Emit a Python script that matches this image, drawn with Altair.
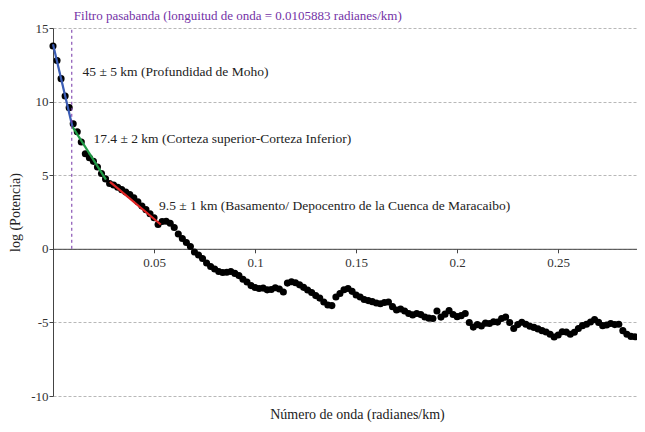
import altair as alt
import pandas as pd

# Wavenumber (radianes/km) and log power
wavenumber = [
    0.000, 0.002, 0.004, 0.006, 0.008, 0.010, 0.012, 0.014, 0.016, 0.018,
    0.020, 0.022, 0.024, 0.026, 0.028, 0.030, 0.032, 0.034, 0.036, 0.038,
    0.040, 0.042, 0.044, 0.046, 0.048, 0.050, 0.052, 0.054, 0.056, 0.058,
    0.060, 0.062, 0.064, 0.066, 0.068, 0.070, 0.072, 0.074, 0.076, 0.078,
    0.080, 0.082, 0.084, 0.086, 0.088, 0.090, 0.092, 0.094, 0.096, 0.098,
    0.100, 0.102, 0.104, 0.106, 0.108, 0.110, 0.112, 0.114, 0.116, 0.118,
    0.120, 0.122, 0.124, 0.126, 0.128, 0.130, 0.132, 0.134, 0.136, 0.138,
    0.140, 0.142, 0.144, 0.146, 0.148, 0.150, 0.152, 0.154, 0.156, 0.158,
    0.160, 0.162, 0.164, 0.166, 0.168, 0.170, 0.172, 0.174, 0.176, 0.178,
    0.180, 0.182, 0.184, 0.186, 0.188, 0.190, 0.192, 0.194, 0.196, 0.198,
    0.200, 0.202, 0.204, 0.206, 0.208, 0.210, 0.212, 0.214, 0.216, 0.218,
    0.220, 0.222, 0.224, 0.226, 0.228, 0.230, 0.232, 0.234, 0.236, 0.238,
    0.240, 0.242, 0.244, 0.246, 0.248, 0.250, 0.252, 0.254, 0.256, 0.258,
    0.260, 0.262, 0.264, 0.266, 0.268, 0.270, 0.272, 0.274, 0.276, 0.278,
    0.280, 0.282, 0.284, 0.286, 0.288,
]
log_power = [
    13.78, 12.79, 11.56, 10.38, 9.59, 8.50, 7.95, 7.25, 6.46, 6.18,
    5.94, 5.56, 5.12, 4.75, 4.44, 4.34, 4.18, 4.02, 3.86, 3.69,
    3.47, 3.20, 2.91, 2.66, 2.38, 2.11, 1.65, 1.86, 1.87, 1.73,
    1.45, 1.01, 0.70, 0.43, 0.16, -0.22, -0.42, -0.66, -0.97, -1.20,
    -1.37, -1.54, -1.61, -1.59, -1.54, -1.67, -1.82, -2.07, -2.26, -2.50,
    -2.63, -2.70, -2.67, -2.79, -2.77, -2.65, -2.73, -2.93, -2.33, -2.24,
    -2.31, -2.45, -2.62, -2.80, -2.97, -3.18, -3.35, -3.62, -3.82, -3.86,
    -3.28, -3.04, -2.78, -2.70, -2.89, -3.14, -3.27, -3.44, -3.52, -3.59,
    -3.68, -3.73, -3.65, -3.62, -3.93, -4.16, -4.09, -4.23, -4.40, -4.49,
    -4.40, -4.47, -4.63, -4.71, -4.74, -4.23, -4.64, -4.44, -4.20, -4.46,
    -4.61, -4.54, -4.40, -5.01, -5.32, -5.15, -5.25, -5.05, -5.08, -4.95,
    -4.98, -4.74, -4.64, -5.01, -5.41, -5.15, -4.99, -5.12, -5.26, -5.34,
    -5.44, -5.56, -5.65, -5.80, -5.99, -5.86, -5.63, -5.66, -5.80, -5.67,
    -5.42, -5.22, -5.12, -4.97, -4.81, -5.00, -5.22, -5.18, -5.07, -5.15,
    -5.12, -5.56, -5.80, -5.95, -5.98,
]

# Fitted segments
fit_names = ["Moho", "Corteza", "Basamento"]
fit_k0 = [0.0, 0.0096, 0.0282]
fit_p0 = [13.9, 8.3, 4.55]
fit_k1 = [0.0096, 0.0262, 0.0533]
fit_p1 = [8.3, 4.7, 1.65]
fit_colors = ["#3a5cb4", "#1f9a45", "#e02424"]

# Band-pass filter marker
filter_k = [0.0093]
filter_p0 = [0]
filter_p1 = [15]
filter_title = "Filtro pasabanda (longuitud de onda = 0.0105883 radianes/km)"

# Annotations
ann_text = [
    "45 \u00b1 5 km (Profundidad de Moho)",
    "17.4 \u00b1 2 km (Corteza superior-Corteza Inferior)",
    "9.5 \u00b1 1 km (Basamento/ Depocentro de la Cuenca de Maracaibo)",
]
ann_k = [0.0146, 0.0200, 0.0525]
ann_p = [12.0, 7.48, 2.88]

x_ticks = [0.05, 0.1, 0.15, 0.2, 0.25]
y_ticks = [-10, -5, 0, 5, 10, 15]

FONT = "Liberation Serif"
PURPLE = "#7332a6"
W, H = 584, 368

df_pts = pd.DataFrame({"k": wavenumber, "p": log_power})
df_fit = pd.DataFrame({"name": fit_names, "k": fit_k0, "p": fit_p0, "k1": fit_k1, "p1": fit_p1})
df_filter = pd.DataFrame({"k": filter_k, "p": filter_p0, "p1": filter_p1, "label": [filter_title]})
df_ann = pd.DataFrame({"k": ann_k, "p": ann_p, "label": ann_text})

x_scale = alt.Scale(domain=[0, 0.289], nice=False, zero=False)
y_scale = alt.Scale(domain=[-10, 15], nice=False)

x_axis = alt.Axis(
    values=x_ticks, labelExpr="datum.value + ''", orient="bottom",
    offset=-H * 10 / 25, grid=False, domainColor="#444", tickColor="#444",
    tickSize=4, labelPadding=4, labelFont=FONT, labelFontSize=13,
    labelColor="#333", title="Número de onda (radianes/km)", titleFont=FONT,
    titleFontSize=14, titleFontWeight="normal", titleColor="#222",
    titleX=304, titleY=170, titleBaseline="alphabetic", titleAlign="center",
)
y_axis = alt.Axis(
    values=y_ticks, labelExpr="datum.value + ''", grid=True,
    gridColor="#b8b8b8", gridDash=[3, 2], gridWidth=1, domainColor="#444",
    tickColor="#444", tickSize=4, labelPadding=1, labelFont=FONT,
    labelFontSize=13, labelColor="#333", title="log (Potencia)",
    titleFont=FONT, titleFontSize=14, titleFontWeight="normal",
    titleColor="#222", titleX=-38, titleY=H / 2, titleAngle=270,
    titleBaseline="middle", titleAlign="center",
)

X = alt.X("k:Q", scale=x_scale, axis=x_axis)
Y = alt.Y("p:Q", scale=y_scale, axis=y_axis)

points = alt.Chart(df_pts).mark_circle(size=50, color="black", opacity=1).encode(x=X, y=Y)

fits = alt.Chart(df_fit).mark_rule(strokeWidth=2.2).encode(
    x=X, y=Y, x2="k1:Q", y2="p1:Q",
    color=alt.Color("name:N", scale=alt.Scale(domain=fit_names, range=fit_colors), legend=None),
)

filter_rule = alt.Chart(df_filter).mark_rule(
    color=PURPLE, strokeDash=[3, 3], strokeWidth=1
).encode(x=X, y=Y, y2="p1:Q")

filter_text = alt.Chart(df_filter).mark_text(
    align="left", baseline="alphabetic", dx=2, dy=-8, font=FONT, fontSize=13, color=PURPLE
).encode(x=X, y=alt.Y("p1:Q", scale=y_scale, axis=y_axis), text="label:N")

ann = alt.Chart(df_ann).mark_text(
    align="left", baseline="middle", font=FONT, fontSize=13.5, color="#222"
).encode(x=X, y=Y, text="label:N")

chart = alt.layer(points, fits, filter_rule, filter_text, ann).properties(
    width=W, height=H,
    autosize=alt.AutoSizeParams(type="none"),
    padding={"left": 45, "top": 20, "right": 0, "bottom": 28},
    background="white",
).configure_view(stroke=None)

chart.save("out.html", embed_options={"renderer": "svg", "actions": False})
